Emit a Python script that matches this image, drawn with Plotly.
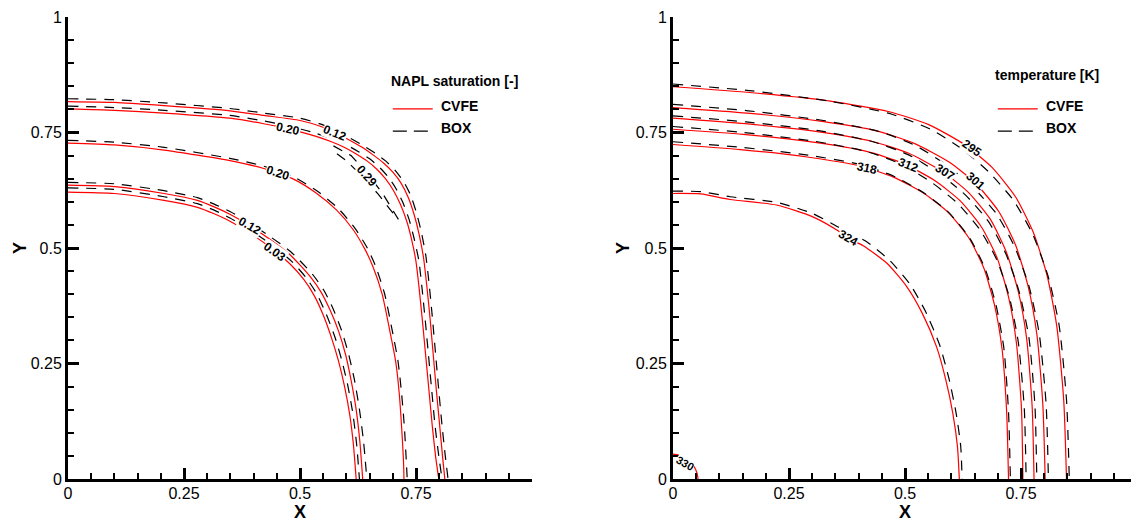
import plotly.graph_objects as go

# ---------------- NAPL saturation panel (left) ----------------
napl_cvfe_012_outer_x = [0, 0.1, 0.207, 0.349, 0.422, 0.5, 0.545, 0.575, 0.604, 0.632, 0.658, 0.680, 0.700, 0.718, 0.733, 0.746, 0.757, 0.766, 0.773, 0.780, 0.787, 0.794, 0.801, 0.807, 0.812]
napl_cvfe_012_outer_y = [0.817, 0.815, 0.808, 0.797, 0.787, 0.776, 0.763, 0.750, 0.735, 0.719, 0.701, 0.684, 0.664, 0.640, 0.610, 0.572, 0.528, 0.48, 0.42, 0.35, 0.27, 0.19, 0.115, 0.05, 0]
napl_cvfe_020_outer_x = [0, 0.1, 0.207, 0.349, 0.422, 0.475, 0.520, 0.565, 0.595, 0.622, 0.645, 0.665, 0.684, 0.701, 0.716, 0.730, 0.741, 0.750, 0.757, 0.764, 0.771, 0.778, 0.785, 0.792, 0.799]
napl_cvfe_020_outer_y = [0.801, 0.798, 0.792, 0.781, 0.769, 0.758, 0.746, 0.731, 0.718, 0.703, 0.688, 0.671, 0.650, 0.625, 0.595, 0.558, 0.516, 0.470, 0.41, 0.34, 0.265, 0.19, 0.115, 0.05, 0]
napl_cvfe_020_mid_x = [0, 0.1, 0.207, 0.349, 0.422, 0.486, 0.536, 0.579, 0.615, 0.640, 0.657, 0.677, 0.692, 0.706, 0.714, 0.719, 0.723, 0.724]
napl_cvfe_020_mid_y = [0.727, 0.723, 0.712, 0.689, 0.672, 0.649, 0.618, 0.582, 0.539, 0.497, 0.460, 0.40, 0.328, 0.255, 0.183, 0.111, 0.039, 0]
napl_cvfe_012_inner_x = [0, 0.1, 0.207, 0.279, 0.315, 0.349, 0.392, 0.435, 0.478, 0.522, 0.545, 0.565, 0.583, 0.598, 0.610, 0.621, 0.629, 0.635]
napl_cvfe_012_inner_y = [0.636, 0.633, 0.618, 0.603, 0.589, 0.573, 0.548, 0.519, 0.486, 0.438, 0.405, 0.365, 0.320, 0.27, 0.214, 0.150, 0.080, 0]
napl_cvfe_003_x = [0, 0.1, 0.207, 0.279, 0.315, 0.349, 0.392, 0.435, 0.478, 0.508, 0.530, 0.550, 0.568, 0.583, 0.596, 0.607, 0.615, 0.621]
napl_cvfe_003_y = [0.621, 0.618, 0.603, 0.588, 0.574, 0.558, 0.532, 0.502, 0.466, 0.432, 0.398, 0.355, 0.305, 0.255, 0.200, 0.140, 0.075, 0]

napl_box_012_outer_x = [0, 0.1, 0.207, 0.349, 0.422, 0.5, 0.545, 0.575, 0.604, 0.632, 0.662, 0.685, 0.705, 0.723, 0.738, 0.751, 0.762, 0.771, 0.778, 0.785, 0.792, 0.799, 0.806, 0.813, 0.819]
napl_box_012_outer_y = [0.823, 0.821, 0.814, 0.802, 0.792, 0.781, 0.768, 0.755, 0.740, 0.724, 0.705, 0.688, 0.668, 0.644, 0.615, 0.576, 0.532, 0.484, 0.424, 0.352, 0.272, 0.192, 0.116, 0.05, 0]
napl_box_020_outer_x = [0, 0.1, 0.207, 0.349, 0.422, 0.475, 0.525, 0.570, 0.600, 0.627, 0.650, 0.670, 0.689, 0.706, 0.721, 0.735, 0.746, 0.756, 0.763, 0.770, 0.777, 0.784, 0.791, 0.799, 0.806]
napl_box_020_outer_y = [0.807, 0.804, 0.798, 0.787, 0.775, 0.764, 0.751, 0.736, 0.723, 0.708, 0.693, 0.676, 0.655, 0.630, 0.600, 0.562, 0.520, 0.473, 0.412, 0.342, 0.266, 0.19, 0.115, 0.05, 0]
napl_box_020_mid_x = [0, 0.1, 0.207, 0.349, 0.422, 0.488, 0.540, 0.583, 0.619, 0.645, 0.662, 0.682, 0.697, 0.711, 0.719, 0.725, 0.729, 0.731]
napl_box_020_mid_y = [0.733, 0.729, 0.718, 0.694, 0.677, 0.653, 0.621, 0.585, 0.542, 0.500, 0.463, 0.402, 0.330, 0.256, 0.184, 0.111, 0.039, 0]
napl_box_012_inner_x = [0, 0.1, 0.207, 0.279, 0.315, 0.349, 0.392, 0.435, 0.480, 0.527, 0.551, 0.571, 0.589, 0.604, 0.617, 0.628, 0.637, 0.644]
napl_box_012_inner_y = [0.642, 0.639, 0.624, 0.609, 0.595, 0.579, 0.554, 0.525, 0.492, 0.443, 0.409, 0.369, 0.323, 0.273, 0.216, 0.151, 0.080, 0]
napl_box_003_x = [0, 0.1, 0.207, 0.279, 0.315, 0.349, 0.392, 0.437, 0.482, 0.513, 0.536, 0.556, 0.575, 0.590, 0.603, 0.614, 0.622, 0.628]
napl_box_003_y = [0.630, 0.627, 0.611, 0.596, 0.582, 0.565, 0.539, 0.508, 0.471, 0.436, 0.401, 0.358, 0.308, 0.257, 0.202, 0.141, 0.075, 0]
napl_box_029_x = [0.572, 0.610, 0.645, 0.678, 0.712, 0.700, 0.668, 0.636, 0.600, 0.570]
napl_box_029_y = [0.721, 0.700, 0.662, 0.618, 0.562, 0.576, 0.617, 0.653, 0.689, 0.711]

napl_label_text = ["0.12", "0.20", "0.20", "0.29", "0.12", "0.03"]
napl_label_x = [0.575, 0.475, 0.453, 0.644, 0.392, 0.446]
napl_label_y = [0.750, 0.758, 0.662, 0.656, 0.548, 0.492]
napl_label_angle = [22, 12, 18, 48, 30, 35]

# ---------------- temperature panel (right) ----------------
temp_cvfe_295_x = [0, 0.170, 0.339, 0.466, 0.551, 0.628, 0.687, 0.738, 0.776, 0.806, 0.827, 0.842, 0.848]
temp_cvfe_295_y = [0.849, 0.836, 0.818, 0.795, 0.767, 0.724, 0.675, 0.611, 0.535, 0.441, 0.331, 0.170, 0]
temp_cvfe_301_x = [0, 0.160, 0.321, 0.441, 0.521, 0.595, 0.653, 0.702, 0.738, 0.765, 0.784, 0.797, 0.802]
temp_cvfe_301_y = [0.804, 0.792, 0.774, 0.753, 0.726, 0.686, 0.639, 0.579, 0.507, 0.418, 0.314, 0.161, 0]
temp_cvfe_307_x = [0, 0.156, 0.311, 0.428, 0.508, 0.580, 0.636, 0.684, 0.718, 0.744, 0.762, 0.774, 0.778]
temp_cvfe_307_y = [0.781, 0.769, 0.752, 0.731, 0.705, 0.666, 0.621, 0.562, 0.492, 0.406, 0.305, 0.156, 0]
temp_cvfe_312_x = [0, 0.151, 0.302, 0.417, 0.494, 0.564, 0.619, 0.665, 0.699, 0.723, 0.740, 0.751, 0.754]
temp_cvfe_312_y = [0.757, 0.746, 0.729, 0.709, 0.684, 0.646, 0.602, 0.545, 0.477, 0.394, 0.295, 0.151, 0]
temp_cvfe_318_x = [0, 0.145, 0.289, 0.400, 0.474, 0.541, 0.594, 0.638, 0.670, 0.693, 0.709, 0.719, 0.723]
temp_cvfe_318_y = [0.724, 0.713, 0.697, 0.678, 0.654, 0.618, 0.576, 0.521, 0.456, 0.376, 0.282, 0.145, 0]
temp_cvfe_324_x = [0, 0.06, 0.123, 0.223, 0.300, 0.353, 0.378, 0.410, 0.461, 0.504, 0.537, 0.568, 0.588, 0.603, 0.613, 0.617]
temp_cvfe_324_y = [0.618, 0.617, 0.605, 0.593, 0.568, 0.539, 0.521, 0.505, 0.467, 0.416, 0.359, 0.286, 0.214, 0.142, 0.070, 0]
temp_cvfe_330_x = [0, 0.020, 0.035, 0.046, 0.052, 0.054]
temp_cvfe_330_y = [0.054, 0.050, 0.040, 0.026, 0.012, 0]

temp_box_295_x = [0, 0.171, 0.342, 0.470, 0.555, 0.622, 0.680, 0.733, 0.775, 0.808, 0.832, 0.848, 0.854]
temp_box_295_y = [0.855, 0.840, 0.817, 0.790, 0.757, 0.715, 0.665, 0.604, 0.530, 0.440, 0.333, 0.171, 0]
temp_box_301_x = [0, 0.162, 0.324, 0.445, 0.522, 0.589, 0.646, 0.697, 0.736, 0.767, 0.789, 0.804, 0.809]
temp_box_301_y = [0.811, 0.797, 0.776, 0.752, 0.722, 0.680, 0.632, 0.574, 0.503, 0.418, 0.316, 0.163, 0]
temp_box_307_x = [0, 0.157, 0.314, 0.431, 0.509, 0.575, 0.631, 0.680, 0.717, 0.746, 0.767, 0.780, 0.784]
temp_box_307_y = [0.786, 0.773, 0.754, 0.730, 0.701, 0.660, 0.614, 0.557, 0.488, 0.405, 0.306, 0.158, 0]
temp_box_312_x = [0, 0.152, 0.305, 0.420, 0.495, 0.560, 0.614, 0.661, 0.698, 0.725, 0.744, 0.757, 0.761]
temp_box_312_y = [0.763, 0.750, 0.731, 0.708, 0.680, 0.640, 0.596, 0.540, 0.474, 0.393, 0.297, 0.153, 0]
temp_box_318_x = [0, 0.146, 0.291, 0.402, 0.475, 0.541, 0.594, 0.639, 0.672, 0.696, 0.713, 0.723, 0.727]
temp_box_318_y = [0.730, 0.718, 0.701, 0.681, 0.656, 0.619, 0.577, 0.522, 0.457, 0.377, 0.283, 0.146, 0]
temp_box_324_x = [0, 0.06, 0.123, 0.223, 0.300, 0.357, 0.415, 0.467, 0.511, 0.544, 0.575, 0.595, 0.610, 0.620, 0.623]
temp_box_324_y = [0.623, 0.622, 0.611, 0.599, 0.575, 0.545, 0.515, 0.473, 0.421, 0.363, 0.289, 0.216, 0.143, 0.071, 0]

temp_label_text = ["295", "301", "307", "312", "318", "324", "330"]
temp_label_x = [0.644, 0.651, 0.586, 0.507, 0.417, 0.378, 0.025]
temp_label_y = [0.717, 0.644, 0.665, 0.679, 0.674, 0.521, 0.034]
temp_label_angle = [35, 42, 33, 22, 12, 30, 30]

legend_titles = ["NAPL saturation [-]", "temperature [K]"]
legend_names = ["CVFE", "BOX"]

FONT = "Arial, Liberation Sans, sans-serif"
RED = "#ff0000"

fig = go.Figure()


def add_curve(x, y, xa, ya, kind, shape="spline"):
    if kind == "cvfe":
        line = dict(color=RED, width=1.2, shape=shape, smoothing=0.6)
    else:
        line = dict(color="black", width=1.2, dash="10px,8px", shape=shape, smoothing=0.6)
    fig.add_trace(go.Scatter(x=x, y=y, mode="lines", line=line, xaxis=xa, yaxis=ya,
                             showlegend=False, hoverinfo="skip"))


for cx, cy in [(napl_cvfe_012_outer_x, napl_cvfe_012_outer_y), (napl_cvfe_020_outer_x, napl_cvfe_020_outer_y),
               (napl_cvfe_020_mid_x, napl_cvfe_020_mid_y), (napl_cvfe_012_inner_x, napl_cvfe_012_inner_y),
               (napl_cvfe_003_x, napl_cvfe_003_y)]:
    add_curve(cx, cy, "x", "y", "cvfe")
for cx, cy in [(napl_box_012_outer_x, napl_box_012_outer_y), (napl_box_020_outer_x, napl_box_020_outer_y),
               (napl_box_020_mid_x, napl_box_020_mid_y), (napl_box_012_inner_x, napl_box_012_inner_y),
               (napl_box_003_x, napl_box_003_y)]:
    add_curve(cx, cy, "x", "y", "box")
add_curve(napl_box_029_x, napl_box_029_y, "x", "y", "box", shape="linear")

for cx, cy in [(temp_cvfe_295_x, temp_cvfe_295_y), (temp_cvfe_301_x, temp_cvfe_301_y),
               (temp_cvfe_307_x, temp_cvfe_307_y), (temp_cvfe_312_x, temp_cvfe_312_y),
               (temp_cvfe_318_x, temp_cvfe_318_y), (temp_cvfe_324_x, temp_cvfe_324_y),
               (temp_cvfe_330_x, temp_cvfe_330_y)]:
    add_curve(cx, cy, "x2", "y2", "cvfe")
for cx, cy in [(temp_box_295_x, temp_box_295_y), (temp_box_301_x, temp_box_301_y),
               (temp_box_307_x, temp_box_307_y), (temp_box_312_x, temp_box_312_y),
               (temp_box_318_x, temp_box_318_y), (temp_box_324_x, temp_box_324_y)]:
    add_curve(cx, cy, "x2", "y2", "box")

# the page body adds an 8 px margin, so the figure is sized to fill the rest of the window
W, H = 1131, 514
ydom = [43 / H, 505 / H]
xdom_left = [60 / W, 524 / W]
xdom_right = [665 / W, 1129 / W]


def axis_style(dom, anchor, rng, standoff=0):
    return dict(domain=dom, anchor=anchor, range=rng, automargin=False,
                showgrid=False, zeroline=False,
                showline=True, linewidth=3, linecolor="black", mirror=False,
                ticks="inside", ticklen=11, tickwidth=3, tickcolor="black",
                tickmode="linear", tick0=0, dtick=0.25, ticklabelstandoff=standoff,
                tickfont=dict(family=FONT, size=16, color="black"),
                minor=dict(ticks="inside", ticklen=6, tickwidth=1.5, tickcolor="black",
                           dtick=0.05, tick0=0, showgrid=False))


fig.update_layout(width=W, height=H, margin=dict(l=0, r=0, t=0, b=0, autoexpand=False),
                  paper_bgcolor="white", plot_bgcolor="white", showlegend=False,
                  xaxis=axis_style(xdom_left, "y", [0, 0.9999], -2),
                  yaxis=axis_style(ydom, "x", [0, 1]),
                  xaxis2=axis_style(xdom_right, "y2", [0, 0.9999], -2),
                  yaxis2=axis_style(ydom, "x2", [0, 1]))

ann = []
for t, x, y, a in zip(napl_label_text, napl_label_x, napl_label_y, napl_label_angle):
    ann.append(dict(x=x, y=y, xref="x", yref="y", text="<b>%s</b>" % t, showarrow=False, textangle=a,
                    font=dict(family=FONT, size=12, color="black"), bgcolor="white", borderpad=0))
for t, x, y, a in zip(temp_label_text, temp_label_x, temp_label_y, temp_label_angle):
    ann.append(dict(x=x, y=y, xref="x2", yref="y2", text="<b>%s</b>" % t, showarrow=False, textangle=a,
                    font=dict(family=FONT, size=12 if t != "330" else 11, color="black"),
                    bgcolor="white", borderpad=0))

# axis titles
for xr, yr, yx, anch in [("x", "y", 0.0, "left"), ("x2", "y2", 615 / W, "center")]:
    ann.append(dict(x=0.5, y=0, xref=xr, yref="paper", text="<b>X</b>", showarrow=False,
                    height=17, valign="middle",
                    font=dict(family=FONT, size=18, color="black"), yanchor="bottom"))
    ann.append(dict(x=yx, y=0.5, xref="paper", yref=yr, text="<b>Y</b>", xanchor=anch,
                    showarrow=False, textangle=-90, font=dict(family=FONT, size=18, color="black")))

# legends
shapes = []
for i, (xr, yr) in enumerate([("x", "y"), ("x2", "y2")]):
    ty = 0.861 if i == 0 else 0.874
    tx = 0.692 if i == 0 else 0.689
    ann.append(dict(x=tx, y=ty, xref=xr, yref=yr, text="<b>%s</b>" % legend_titles[i], showarrow=False,
                    xanchor="left", font=dict(family=FONT, size=14, color="black")))
    ann.append(dict(x=0.80, y=0.807, xref=xr, yref=yr, text="<b>%s</b>" % legend_names[0], showarrow=False,
                    xanchor="left", font=dict(family=FONT, size=14, color="black")))
    ann.append(dict(x=0.80, y=0.760, xref=xr, yref=yr, text="<b>%s</b>" % legend_names[1], showarrow=False,
                    xanchor="left", font=dict(family=FONT, size=14, color="black")))
    shapes.append(dict(type="line", xref=xr, yref=yr, x0=0.700, x1=0.786, y0=0.801, y1=0.801,
                       line=dict(color=RED, width=1.2)))
    shapes.append(dict(type="line", xref=xr, yref=yr, x0=0.700, x1=0.780, y0=0.753, y1=0.753,
                       line=dict(color="black", width=1.2, dash="14px,7px")))

fig.update_layout(annotations=ann, shapes=shapes)
fig.write_html("out.html")
